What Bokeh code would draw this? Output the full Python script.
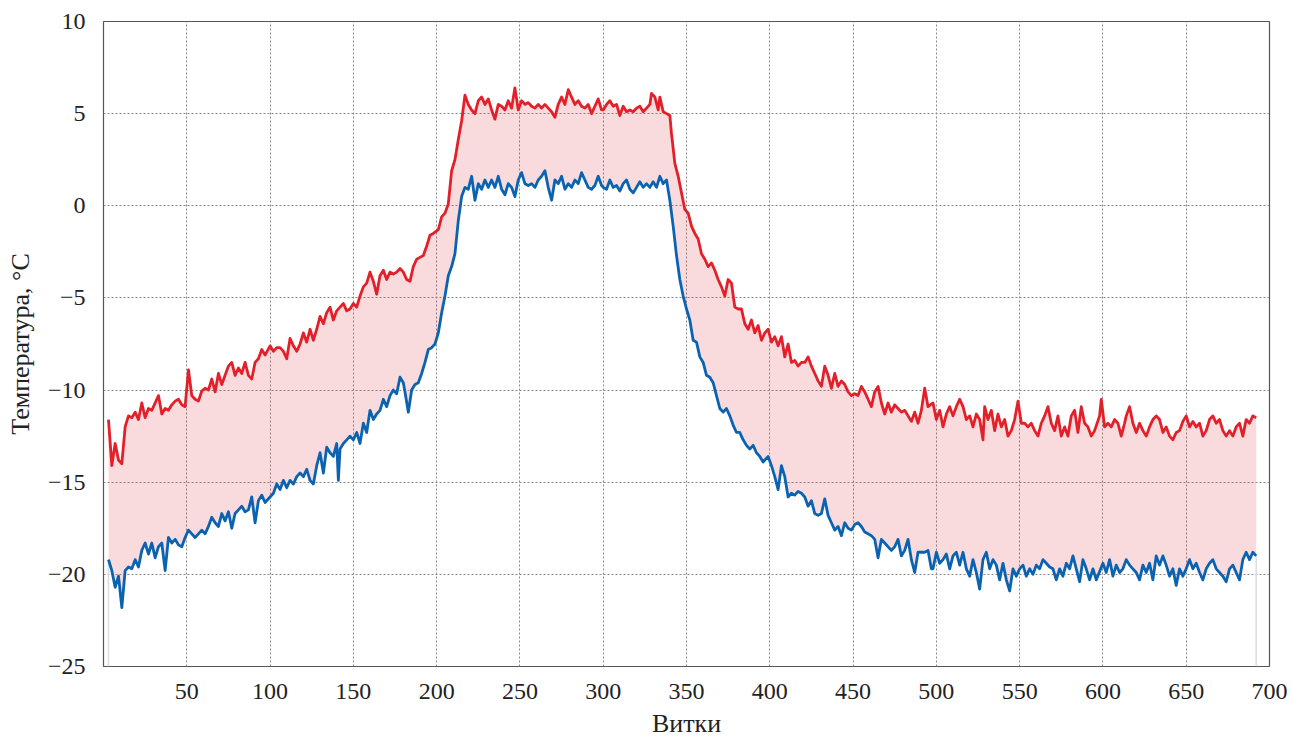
from bokeh.plotting import figure
from bokeh.models import FixedTicker, CustomJSTickFormatter, Range1d
from bokeh.embed import file_html
from bokeh.resources import INLINE

# ---- data ----
red_x = [3, 5, 7, 9, 11, 13, 15, 17, 19, 21, 23, 25, 27, 29, 31, 33, 35, 37, 39, 41, 43, 45, 47, 49,
         51, 53, 55, 57, 59, 61, 63, 65, 67, 69, 71, 73, 75, 77, 79, 81, 83, 85, 87, 89, 91, 93, 95, 97,
         100, 102, 104, 106, 108, 110, 112, 114, 116, 118, 120, 122, 124, 126, 128, 130, 132, 134, 136,
         138, 140, 142, 144, 146, 148, 150, 152, 154, 156, 158, 160, 162, 164, 166, 168, 170, 172, 174,
         176, 178, 180, 182, 184, 186, 188, 190, 192, 194, 196, 198,
         201, 203, 205, 207, 209, 211, 213, 215, 217, 219, 221, 223, 225, 227, 229, 231, 233, 235, 237,
         239, 241, 243, 245, 247, 249, 251, 253, 255, 257, 259, 261, 263, 265, 267, 269, 271, 273, 275,
         277, 279, 281, 283, 285, 287, 289, 291, 293, 295, 297, 299,
         300, 302, 304, 306, 308, 310, 312, 314, 316, 318, 320, 322, 324, 326, 328, 329, 331, 333, 334,
         336, 338, 340, 341, 343, 345, 347, 349, 351, 353, 355, 357, 359, 361, 363, 365, 367, 369, 371,
         373, 375, 377, 379, 381, 383, 385, 387, 389, 391, 393, 395,
         397, 399, 401, 403, 405, 407, 409, 411, 413, 415, 417, 419, 421, 423, 425, 427, 429, 431, 433,
         435, 437, 439, 441, 443, 445, 447, 449, 451, 453, 455, 457, 459, 461, 463, 465, 467, 469, 471,
         473, 475, 477, 479, 481, 483, 485, 487, 489, 491, 493, 495,
         498, 500, 502, 504, 506, 508, 510, 512, 514, 516, 518, 520, 522, 524, 526, 528, 529, 531, 533,
         535, 537, 539, 541, 543, 545, 547, 549, 551, 553, 555, 557, 559, 561, 563, 565, 567, 569, 571,
         573, 575, 577, 579, 581, 583, 585, 587, 589, 591, 593, 595,
         598, 599, 601, 603, 605, 607, 609, 611, 613, 614, 616, 618, 620, 622, 624, 626, 628, 630, 632,
         634, 636, 638, 640, 642, 644, 646, 648, 650, 652, 654, 656, 658, 660, 662, 664, 666, 668, 670,
         672, 674, 676, 678, 680, 682, 684, 686, 688, 690, 692]
red_y = [-11.6, -14.1, -12.9, -13.8, -14.0, -12.0, -11.4, -11.5, -11.2, -11.6, -10.7, -11.5, -11.0, -11.1,
         -10.7, -10.3, -11.3, -11.0, -11.1, -10.8, -10.6, -10.5, -10.8, -10.9, -8.9, -10.3, -10.5, -10.6,
         -10.05, -9.9, -10.0, -9.4, -10.1, -9.1, -9.7, -9.2, -8.7, -8.5, -9.2, -8.8, -9.1, -8.5, -9.2, -9.4,
         -8.5, -8.3, -7.8, -8.1,
         -7.6, -7.9, -7.7, -7.7, -7.9, -8.3, -7.2, -7.6, -7.9, -7.5, -6.9, -7.4, -6.7, -7.3, -6.7, -6.0,
         -6.4, -5.8, -5.5, -6.2, -5.7, -5.5, -5.3, -5.7, -5.6, -5.3, -5.5, -4.9, -4.4, -4.2, -3.6, -4.1,
         -4.8, -3.8, -3.5, -4.0, -3.6, -3.7, -3.6, -3.4, -3.6, -4.0, -4.1, -3.3, -2.9, -2.8, -2.7, -2.2,
         -1.6, -1.5,
         -1.3, -0.6, -0.4, 0.1, 1.9, 2.5, 3.6, 4.6, 6.0, 5.5, 5.2, 5.0, 5.7, 5.9, 5.5, 5.8, 5.2, 4.7, 5.5,
         5.4, 5.2, 5.7, 5.3, 6.4, 5.2, 5.7, 5.5, 5.6, 5.4, 5.3, 5.5, 5.3, 5.5, 5.3, 5.1, 4.8, 5.5, 5.9,
         5.5, 6.3, 5.9, 5.5, 5.7, 5.4, 5.3, 5.5, 5.0, 5.4, 5.8, 5.2,
         5.2, 5.5, 5.7, 5.4, 5.5, 4.9, 5.4, 5.1, 5.2, 5.1, 5.3, 5.4, 5.1, 5.3, 5.5, 6.1, 5.9, 5.2, 5.9,
         5.1, 5.0, 4.9, 3.9, 2.3, 1.6, 0.7, -0.2, -0.4, -1.1, -1.5, -1.8, -2.6, -2.9, -3.3, -3.1, -3.5,
         -4.0, -4.4, -4.9, -4.0, -4.2, -5.5, -5.6, -5.6, -6.4, -6.7, -6.2, -6.9, -6.5, -7.3,
         -6.9, -6.7, -7.4, -7.1, -7.6, -7.1, -8.2, -7.5, -8.5, -8.4, -8.7, -8.5, -8.5, -8.2, -8.7, -9.1,
         -9.5, -9.8, -8.7, -9.2, -9.9, -9.1, -9.8, -9.5, -9.7, -10.1, -10.3, -10.2, -10.3, -9.8, -10.1,
         -10.5, -10.9, -10.1, -9.8, -10.7, -11.3, -10.7, -11.2, -10.8, -11.0, -11.2, -11.1, -11.4, -11.7,
         -11.2, -11.8, -11.1, -9.9, -10.9,
         -10.7, -11.6, -11.1, -12.0, -11.3, -10.9, -11.4, -10.9, -10.5, -10.9, -11.6, -11.4, -12.0, -11.3,
         -11.6, -12.7, -10.9, -11.6, -11.1, -12.2, -11.3, -12.0, -11.6, -12.5, -12.2, -11.6, -10.6, -11.8,
         -11.8, -12.0, -11.8, -12.2, -12.5, -11.8, -11.4, -10.9, -11.8, -12.2, -11.4, -12.5, -12.0, -12.5,
         -11.4, -11.1, -12.3, -10.9, -11.8, -12.0, -12.5, -12.2,
         -11.4, -10.5, -12.0, -11.8, -12.0, -11.6, -11.8, -12.5, -11.8, -11.4, -10.9, -11.8, -12.3, -11.8,
         -12.2, -12.5, -12.0, -11.6, -11.4, -11.6, -12.3, -12.0, -12.5, -12.7, -12.3, -12.2, -11.7, -11.4,
         -12.0, -11.7, -12.0, -11.8, -12.5, -12.2, -11.6, -11.4, -11.8, -11.6, -12.2, -12.5, -12.2, -12.5,
         -12.0, -11.8, -12.5, -11.6, -11.8, -11.4, -11.5]

blue_x = [3, 5, 7, 9, 11, 13, 15, 17, 19, 21, 23, 25, 27, 29, 31, 33, 35, 37, 39, 41, 43, 45, 47, 49,
          51, 53, 55, 57, 59, 61, 63, 65, 67, 69, 71, 73, 75, 77, 79, 81, 83, 85, 87, 89, 91, 93, 95, 97,
          100, 102, 104, 106, 108, 110, 112, 114, 116, 118, 120, 122, 124, 126, 128, 130, 132, 134, 136,
          138, 140, 141, 142, 144, 146, 148, 150, 152, 154, 156, 158, 160, 162, 164, 166, 168, 170, 172,
          174, 176, 178, 180, 181, 183, 185, 187, 189, 191, 193, 195, 197, 199,
          201, 203, 205, 207, 209, 211, 213, 215, 217, 219, 221, 223, 225, 227, 229, 231, 233, 235, 237,
          239, 241, 243, 245, 247, 249, 251, 253, 255, 257, 259, 261, 263, 265, 267, 269, 271, 273, 275,
          277, 279, 281, 283, 285, 287, 289, 291, 293, 295, 297, 299,
          300, 302, 304, 306, 308, 310, 312, 314, 316, 318, 320, 322, 324, 326, 328, 330, 332, 334, 336,
          338, 340, 342, 344, 346, 348, 350, 352, 354, 356, 358, 360, 362, 364, 366, 368, 370, 372, 374,
          376, 378, 380, 382, 384, 386, 388, 390, 392, 394, 396,
          399, 401, 403, 405, 407, 409, 411, 413, 415, 417, 419, 421, 423, 425, 427, 429, 431, 433, 435,
          437, 439, 441, 443, 445, 447, 449, 451, 453, 455, 457, 459, 461, 463, 465, 467, 469, 471, 473,
          475, 477, 479, 481, 483, 485, 487, 489, 491, 493, 495, 497,
          498, 500, 502, 504, 506, 508, 510, 512, 514, 516, 518, 520, 522, 524, 526, 528, 530, 532, 534,
          536, 538, 540, 542, 544, 546, 548, 550, 552, 554, 556, 558, 560, 562, 564, 566, 568, 570, 572,
          574, 576, 578, 580, 582, 584, 586, 588, 590, 592, 594, 596,
          600, 602, 604, 606, 608, 610, 612, 614, 616, 618, 620, 622, 624, 626, 628, 630, 632, 634, 636,
          638, 640, 642, 644, 646, 648, 650, 652, 654, 656, 658, 660, 662, 664, 666, 668, 670, 672, 674,
          676, 678, 680, 682, 684, 686, 688, 690, 692]
blue_y = [-19.2, -19.8, -20.7, -20.1, -21.8, -19.8, -19.6, -19.7, -19.2, -19.6, -18.7, -18.3, -18.9, -18.3,
          -19.1, -18.5, -18.3, -19.8, -18.0, -18.3, -18.1, -18.4, -18.5, -18.0, -17.6, -17.8, -18.0, -17.8,
          -17.6, -17.8, -17.4, -16.9, -17.2, -17.4, -16.7, -17.1, -16.6, -17.5, -16.7, -16.5, -16.3, -16.6,
          -16.5, -15.8, -17.2, -16.0, -15.7, -16.1,
          -15.8, -15.6, -15.1, -15.4, -14.9, -15.3, -14.9, -15.1, -14.7, -14.5, -14.7, -14.3, -14.9, -15.1,
          -14.1, -13.4, -14.5, -13.1, -13.4, -13.6, -12.9, -14.9, -13.2, -12.9, -12.7, -12.5, -12.7, -12.3,
          -12.9, -11.8, -12.3, -11.1, -11.6, -11.3, -11.1, -10.5, -10.9, -10.3, -10.0, -10.2, -9.3, -9.6,
          -10.1, -11.2, -10.0, -9.7, -9.6, -9.1, -8.5, -7.8, -7.7, -7.5,
          -6.9, -5.8, -4.9, -3.8, -3.3, -2.6, -0.8, 0.5, 1.0, 0.9, 1.6, 0.3, 1.2, 0.9, 1.4, 1.0, 1.4, 1.0,
          1.6, 0.9, 0.6, 1.2, 1.0, 0.5, 1.4, 1.8, 1.2, 1.1, 1.2, 1.0, 1.4, 1.6, 1.9, 1.0, 0.3, 1.4, 1.2,
          1.6, 0.9, 1.2, 1.0, 1.4, 1.2, 1.8, 1.4, 1.0, 0.9, 1.1, 1.6, 1.1,
          1.0, 0.9, 1.4, 1.0, 1.1, 0.8, 1.2, 1.4, 0.9, 0.7, 1.0, 1.3, 1.0, 1.2, 1.0, 1.3, 1.0, 1.6, 1.2,
          1.4, 0.3, -1.1, -2.7, -4.0, -4.9, -5.6, -6.2, -7.3, -7.4, -8.2, -8.5, -9.2, -9.3, -9.6, -10.3,
          -11.0, -11.2, -11.0, -11.4, -11.9, -12.3, -12.3, -12.7, -13.0, -13.2, -13.0, -13.4, -13.6, -13.9,
          -13.6, -14.1, -14.7, -15.4, -14.1, -14.7, -15.8, -15.6, -15.7, -15.5, -15.6, -15.8, -16.3, -16.0,
          -16.7, -16.8, -16.7, -15.9, -16.8, -17.2, -17.6, -17.4, -17.9, -17.2, -17.5, -17.6, -17.3, -17.2,
          -17.4, -17.7, -17.8, -17.9, -18.1, -19.1, -18.1, -18.3, -18.5, -18.7, -18.5, -18.1, -19.0, -18.7,
          -18.1, -19.2, -19.9, -18.8, -18.8, -18.8, -18.7, -19.7,
          -19.7, -18.8, -19.4, -19.2, -18.9, -19.7, -19.0, -18.8, -19.5, -18.8, -19.7, -20.1, -19.2, -19.9,
          -20.8, -19.2, -18.8, -19.7, -19.2, -19.5, -20.3, -19.4, -20.3, -20.9, -19.7, -20.1, -19.7, -19.5,
          -20.1, -19.7, -20.0, -19.5, -19.7, -19.2, -19.4, -19.6, -19.7, -20.3, -19.7, -20.1, -19.4, -19.7,
          -19.0, -19.7, -20.4, -19.2, -19.7, -20.3, -19.7, -20.3,
          -19.4, -19.9, -19.2, -20.1, -19.5, -19.9, -19.7, -19.2, -19.5, -19.7, -19.9, -20.3, -19.5, -19.9,
          -19.4, -20.3, -19.0, -19.5, -19.0, -19.5, -20.1, -19.7, -20.6, -19.7, -20.1, -19.7, -19.2, -19.7,
          -19.4, -19.9, -20.3, -19.7, -19.4, -19.2, -19.7, -19.9, -20.1, -20.4, -19.7, -19.5, -19.9, -20.3,
          -19.2, -18.8, -19.2, -18.8, -19.0]

x_ticks = [50, 100, 150, 200, 250, 300, 350, 400, 450, 500, 550, 600, 650, 700]
y_ticks = [-25, -20, -15, -10, -5, 0, 5, 10]
x_label = "Витки"
y_label = "Температура, °C"

RED = "#e3202a"
BLUE = "#0a63b1"
FONT = "'Liberation Serif', 'Times New Roman', serif"

p = figure(width=1290, height=740, output_backend="svg", toolbar_location=None,
           x_range=Range1d(0, 700), y_range=Range1d(-25, 10),
           min_border_left=103, min_border_right=21, min_border_top=21, min_border_bottom=74)

# band between the two series
band_x = red_x + blue_x[::-1]
band_y = red_y + blue_y[::-1]
p.patch(band_x, band_y, fill_color=RED, fill_alpha=0.16, line_color=None)
p.segment(x0=[blue_x[0], blue_x[-1]], y0=[blue_y[0], blue_y[-1]],
          x1=[blue_x[0], blue_x[-1]], y1=[y_ticks[0], y_ticks[0]],
          line_color="#d9dce8", line_width=1.5)

p.line(red_x, red_y, line_color=RED, line_width=2.8, line_join="round")
p.line(blue_x, blue_y, line_color=BLUE, line_width=2.8, line_join="round")

p.xaxis.ticker = FixedTicker(ticks=x_ticks)
p.yaxis.ticker = FixedTicker(ticks=y_ticks)
fmt = CustomJSTickFormatter(code="return tick < 0 ? '\u2212' + Math.abs(tick) : String(tick);")
p.yaxis.formatter = fmt

for ax in (p.xaxis[0], p.yaxis[0]):
    ax.axis_line_color = None
    ax.major_tick_line_color = None
    ax.minor_tick_line_color = None
    ax.major_label_text_font = FONT
    ax.major_label_text_font_size = "24px"
    ax.major_label_text_color = "#222222"
    ax.axis_label_text_font = FONT
    ax.axis_label_text_font_size = "26px"
    ax.axis_label_text_font_style = "normal"
    ax.axis_label_text_color = "#222222"

p.xaxis.axis_label = x_label
p.yaxis.axis_label = y_label
p.xaxis.major_label_standoff = 11
p.xaxis.axis_label_standoff = 7
p.yaxis.major_label_standoff = 12
p.yaxis.axis_label_standoff = 10

p.grid.grid_line_color = "#8a8a8a"
p.grid.grid_line_dash = "2 2"
p.grid.grid_line_width = 1
p.outline_line_color = "#555555"
p.outline_line_width = 1.2
p.background_fill_color = "white"
p.border_fill_color = "white"

open("out.html", "w").write(file_html(p, INLINE))
